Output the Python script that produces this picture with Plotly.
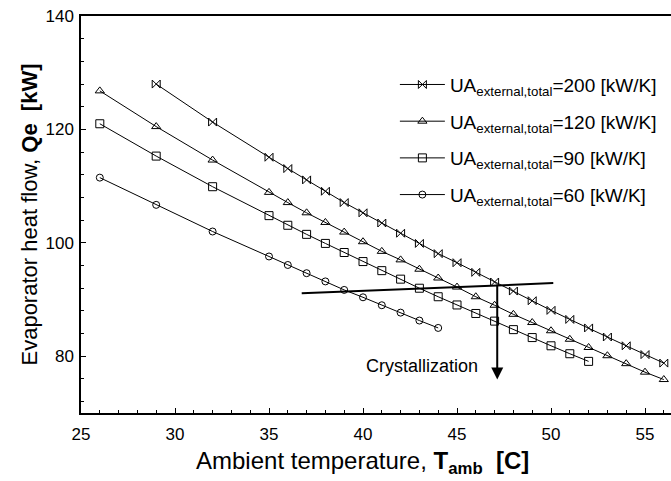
import plotly.graph_objects as go

# Ambient temperature [C] and evaporator heat flow Qe [kW] for each UA value
t_200 = [29, 32, 35, 36, 37, 38, 39, 40, 41, 42, 43, 44, 45, 46, 47, 48, 49, 50, 51, 52, 53, 54, 55, 56]
q_200 = [128.0, 121.3, 115.1, 113.1, 111.1, 109.1, 107.1, 105.3, 103.5, 101.7, 99.9, 98.1,
         96.5, 94.8, 93.1, 91.5, 89.8, 88.1, 86.5, 85.0, 83.4, 81.85, 80.3, 78.8]

t_120 = [26, 29, 32, 35, 36, 37, 38, 39, 40, 41, 42, 43, 44, 45, 46, 47, 48, 49, 50, 51, 52, 53, 54, 55, 56]
q_120 = [126.8, 120.5, 114.6, 108.9, 107.1, 105.3, 103.6, 101.9, 100.2, 98.5, 97.0, 95.35,
         93.8, 92.2, 90.5, 89.0, 87.4, 85.95, 84.5, 83.0, 81.55, 80.1, 78.7, 77.2, 75.9]

t_90 = [26, 29, 32, 35, 36, 37, 38, 39, 40, 41, 42, 43, 44, 45, 46, 47, 48, 49, 50, 51, 52]
q_90 = [121.0, 115.3, 109.9, 104.8, 103.1, 101.5, 99.9, 98.3, 96.7, 95.1, 93.6, 92.0,
        90.5, 89.05, 87.55, 86.2, 84.7, 83.3, 81.85, 80.45, 79.1]

t_60 = [26, 29, 32, 35, 36, 37, 38, 39, 40, 41, 42, 43, 44]
q_60 = [111.5, 106.7, 102.0, 97.6, 96.1, 94.65, 93.2, 91.7, 90.4, 89.0, 87.7, 86.3, 85.0]

series_names = [
    "UA<sub>external,total</sub>=200 [kW/K]",
    "UA<sub>external,total</sub>=120 [kW/K]",
    "UA<sub>external,total</sub>=90 [kW/K]",
    "UA<sub>external,total</sub>=60 [kW/K]",
]

# Crystallization limit line and arrow
crys_t = [36.74, 50.12]
crys_q = [91.1, 92.9]
arrow_t = 47.14
arrow_q = [92.7, 75.9]
crys_label = "Crystallization"

FONT = "Arial, Liberation Sans, sans-serif"

fig = go.Figure()
specs = [
    (t_200, q_200, "bowtie-open", 8),
    (t_120, q_120, "triangle-up-open", 8),
    (t_90, q_90, "square-open", 8),
    (t_60, q_60, "circle-open", 7),
]
for i, ((t, q, sym, sz), name) in enumerate(zip(specs, series_names)):
    fig.add_trace(go.Scatter(
        x=t, y=q, mode="lines+markers", name=name, legendgroup=f"g{i}",
        line=dict(color="black", width=1),
        marker=dict(symbol=sym, size=sz, color="black", line=dict(color="black", width=1)),
    ))

fig.add_shape(type="line", x0=crys_t[0], y0=crys_q[0], x1=crys_t[1], y1=crys_q[1],
              xref="x", yref="y", line=dict(color="black", width=2))
fig.add_annotation(x=arrow_t, y=arrow_q[1], ax=arrow_t, ay=arrow_q[0],
                   xref="x", yref="y", axref="x", ayref="y", text="",
                   showarrow=True, arrowhead=2, arrowsize=1.2, arrowwidth=2, arrowcolor="black")
fig.add_annotation(x=43.14, y=78.3, xref="x", yref="y", text=crys_label, showarrow=False,
                   font=dict(family=FONT, size=18, color="black"))

axis_common = dict(
    showline=True, linecolor="black", linewidth=1.5, showgrid=False, zeroline=False,
    ticks="inside", ticklen=5, tickcolor="black", tickwidth=1,
    tickfont=dict(family=FONT, size=17, color="black"),
)
fig.update_xaxes(
    range=[25, 25 + 590 / 18.8], dtick=5, tick0=25, mirror=True,
    minor=dict(dtick=1, ticks="inside", ticklen=3, tickcolor="black"),
    ticklabelstandoff=5,
    title=dict(text="Ambient temperature, <b>T<sub>amb</sub>  [C]</b>&nbsp;&nbsp;&nbsp;&nbsp;",
               font=dict(family=FONT, size=24, color="black"), standoff=9),
    **axis_common,
)
fig.update_yaxes(
    range=[70, 140], dtick=20, tick0=0, mirror=False,
    minor=dict(dtick=4, ticks="inside", ticklen=3, tickcolor="black"),
    ticklabelstandoff=2,
    title=dict(text="Evaporator heat flow, <b>Qe  [kW]</b>",
               font=dict(family=FONT, size=22, color="black"), standoff=2),
    **axis_common,
)

fig.update_layout(
    width=671, height=481,
    margin=dict(l=81, r=0, t=16, b=68),
    paper_bgcolor="white", plot_bgcolor="white",
    font=dict(family=FONT, color="black"),
    legend=dict(x=0.532, y=0.875, xanchor="left", yanchor="top",
                traceorder="grouped", tracegroupgap=9, itemwidth=45,
                font=dict(family=FONT, size=19, color="black"),
                bgcolor="rgba(0,0,0,0)"),
)

fig.write_html("out.html")
